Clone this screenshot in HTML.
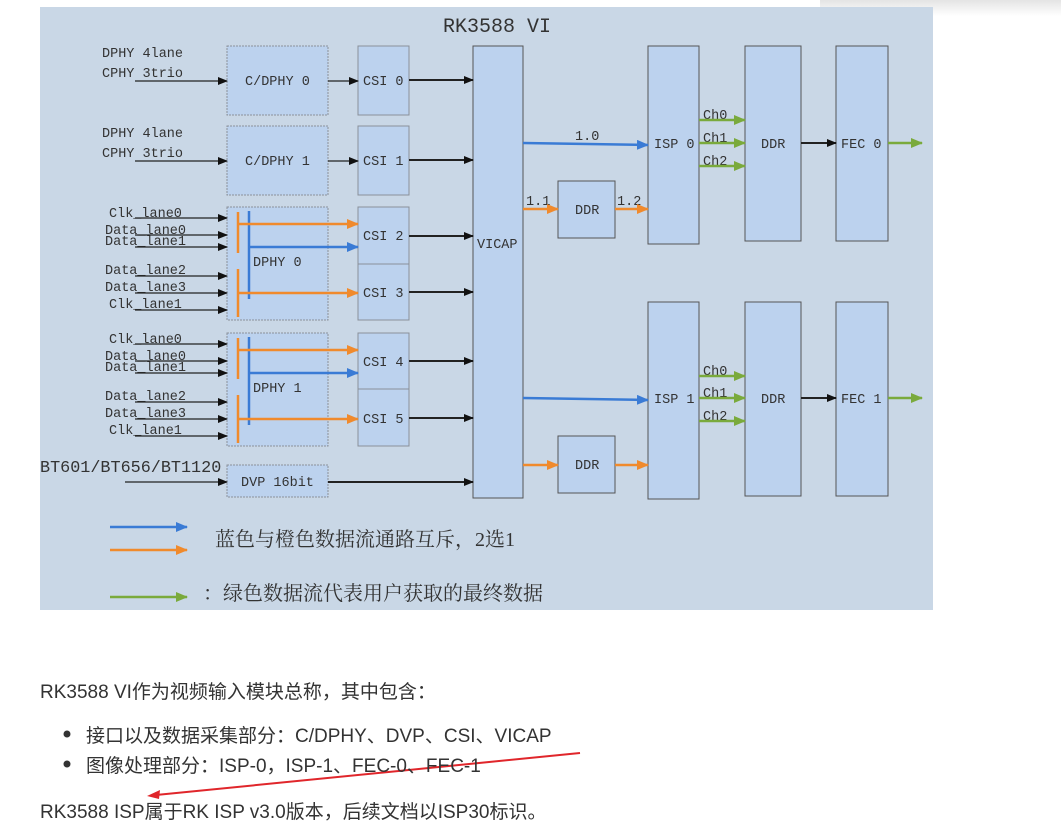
<!DOCTYPE html>
<html><head><meta charset="utf-8"><style>
html,body{margin:0;padding:0;background:#fff;width:1061px;height:837px;overflow:hidden}
svg{position:absolute;left:0;top:0}
.t{font-family:"Liberation Serif","Noto Serif CJK SC",serif;fill:#333}
.m{font-family:"Liberation Mono","Noto Serif CJK SC",monospace;fill:#333}
.p{position:absolute;font-family:"Liberation Sans","Noto Sans CJK SC",sans-serif;font-size:19px;color:#333;white-space:nowrap}
</style></head><body>
<svg width="1061" height="837" viewBox="0 0 1061 837">
<defs>
<linearGradient id="sh" x1="0" y1="0" x2="0" y2="1"><stop offset="0" stop-color="#e4e4e4"/><stop offset="1" stop-color="#fff"/></linearGradient>
<marker id="mk" markerWidth="10" markerHeight="8" refX="9" refY="4" orient="auto" markerUnits="userSpaceOnUse"><path d="M0,0L10,4L0,8z" fill="#111"/></marker>
<marker id="mb" markerWidth="12" markerHeight="10" refX="11" refY="5" orient="auto" markerUnits="userSpaceOnUse"><path d="M0,0L12,5L0,10z" fill="#3a7bd5"/></marker>
<marker id="mo" markerWidth="12" markerHeight="10" refX="11" refY="5" orient="auto" markerUnits="userSpaceOnUse"><path d="M0,0L12,5L0,10z" fill="#f08a2c"/></marker>
<marker id="mg" markerWidth="12" markerHeight="10" refX="11" refY="5" orient="auto" markerUnits="userSpaceOnUse"><path d="M0,0L12,5L0,10z" fill="#7aaa3c"/></marker>
</defs>
<rect x="820" y="0" width="241" height="16" fill="url(#sh)"/>
<rect x="40" y="7" width="893" height="603" fill="#c9d7e6"/>
<text class="m" x="443" y="32" font-size="20">RK3588 VI</text>
<g fill="#bcd2ee" stroke="#8a9099" stroke-width="1">
<rect x="227" y="46" width="101" height="69" stroke-dasharray="2,1"/>
<rect x="227" y="126" width="101" height="69" stroke-dasharray="2,1"/>
<rect x="227" y="207" width="101" height="113" stroke-dasharray="2,1"/>
<rect x="227" y="333" width="101" height="113" stroke-dasharray="2,1"/>
<rect x="227" y="465" width="101" height="32" stroke-dasharray="2,1"/>
<rect x="358" y="46" width="51" height="69"/>
<rect x="358" y="126" width="51" height="69"/>
<rect x="358" y="207" width="51" height="57"/>
<rect x="358" y="264" width="51" height="56"/>
<rect x="358" y="333" width="51" height="56"/>
<rect x="358" y="389" width="51" height="57"/>
</g>
<g fill="#bcd2ee" stroke="#555" stroke-width="1">
<rect x="473" y="46" width="50" height="452"/>
<rect x="558" y="181" width="57" height="57"/>
<rect x="558" y="436" width="57" height="57"/>
<rect x="648" y="46" width="51" height="198"/>
<rect x="648" y="302" width="51" height="197"/>
<rect x="745" y="46" width="56" height="195"/>
<rect x="745" y="302" width="56" height="194"/>
<rect x="836" y="46" width="52" height="195"/>
<rect x="836" y="302" width="52" height="194"/>
</g>
<g class="m" font-size="13.5">
<text x="245" y="85">C/DPHY 0</text><text x="245" y="165">C/DPHY 1</text>
<text x="363" y="85">CSI 0</text><text x="363" y="165">CSI 1</text>
<text x="363" y="240">CSI 2</text><text x="363" y="297">CSI 3</text>
<text x="363" y="366">CSI 4</text><text x="363" y="423">CSI 5</text>
<text x="253" y="266">DPHY 0</text><text x="253" y="392">DPHY 1</text>
<text x="241" y="486">DVP 16bit</text>
<text x="477" y="248">VICAP</text>
<text x="575" y="214">DDR</text><text x="575" y="469">DDR</text>
<text x="654" y="148">ISP 0</text><text x="654" y="403">ISP 1</text>
<text x="761" y="148">DDR</text><text x="761" y="403">DDR</text>
<text x="841" y="148">FEC 0</text><text x="841" y="403">FEC 1</text>
<text x="102" y="57">DPHY 4lane</text><text x="102" y="77">CPHY 3trio</text>
<text x="102" y="137">DPHY 4lane</text><text x="102" y="157">CPHY 3trio</text>
<text x="109" y="217">Clk_lane0</text><text x="105" y="234">Data_lane0</text><text x="105" y="245">Data_lane1</text>
<text x="105" y="274">Data_lane2</text><text x="105" y="291">Data_lane3</text><text x="109" y="308">Clk_lane1</text>
<text x="109" y="343">Clk_lane0</text><text x="105" y="360">Data_lane0</text><text x="105" y="371">Data_lane1</text>
<text x="105" y="400">Data_lane2</text><text x="105" y="417">Data_lane3</text><text x="109" y="434">Clk_lane1</text>
<text x="40" y="472" font-size="16.8">BT601/BT656/BT1120</text>
<text x="575" y="140">1.0</text><text x="526" y="205">1.1</text><text x="617" y="205">1.2</text>
<text x="703" y="119">Ch0</text><text x="703" y="142">Ch1</text><text x="703" y="165">Ch2</text>
<text x="703" y="375">Ch0</text><text x="703" y="397">Ch1</text><text x="703" y="420">Ch2</text>
</g>
<g stroke="#222" stroke-width="1.2" marker-end="url(#mk)">
<line x1="135" y1="81" x2="227" y2="81"/><line x1="135" y1="161" x2="227" y2="161"/>
<line x1="135" y1="218" x2="227" y2="218"/><line x1="135" y1="235" x2="227" y2="235"/><line x1="135" y1="247" x2="227" y2="247"/>
<line x1="135" y1="276" x2="227" y2="276"/><line x1="135" y1="293" x2="227" y2="293"/><line x1="135" y1="310" x2="227" y2="310"/>
<line x1="135" y1="344" x2="227" y2="344"/><line x1="135" y1="361" x2="227" y2="361"/><line x1="135" y1="373" x2="227" y2="373"/>
<line x1="135" y1="402" x2="227" y2="402"/><line x1="135" y1="419" x2="227" y2="419"/><line x1="135" y1="436" x2="227" y2="436"/>
<line x1="125" y1="482" x2="227" y2="482"/>
<line x1="328" y1="81" x2="358" y2="81"/><line x1="328" y1="161" x2="358" y2="161"/>
</g>
<g stroke="#222" stroke-width="2" marker-end="url(#mk)">
<line x1="409" y1="80" x2="473" y2="80"/><line x1="409" y1="160" x2="473" y2="160"/>
<line x1="409" y1="236" x2="473" y2="236"/><line x1="409" y1="292" x2="473" y2="292"/>
<line x1="409" y1="361" x2="473" y2="361"/><line x1="409" y1="418" x2="473" y2="418"/>
<line x1="328" y1="482" x2="473" y2="482"/>
<line x1="801" y1="143" x2="836" y2="143"/><line x1="801" y1="398" x2="836" y2="398"/>
</g>
<g stroke-width="2.5">
<line x1="238" y1="212" x2="238" y2="253" stroke="#f08a2c"/><line x1="238" y1="269" x2="238" y2="317" stroke="#f08a2c"/>
<line x1="249" y1="211" x2="249" y2="299" stroke="#3a7bd5"/>
<line x1="238" y1="338" x2="238" y2="379" stroke="#f08a2c"/><line x1="238" y1="395" x2="238" y2="443" stroke="#f08a2c"/>
<line x1="249" y1="337" x2="249" y2="425" stroke="#3a7bd5"/>
</g>
<g stroke-width="2.5" fill="none">
<g stroke="#f08a2c" marker-end="url(#mo)">
<line x1="238" y1="224" x2="358" y2="224"/><line x1="238" y1="293" x2="358" y2="293"/>
<line x1="238" y1="350" x2="358" y2="350"/><line x1="238" y1="419" x2="358" y2="419"/>
<line x1="523" y1="209" x2="558" y2="209"/><line x1="615" y1="209" x2="648" y2="209"/>
<line x1="523" y1="465" x2="558" y2="465"/><line x1="615" y1="465" x2="648" y2="465"/>
<line x1="110" y1="550" x2="187" y2="550"/>
</g>
<g stroke="#3a7bd5" marker-end="url(#mb)">
<line x1="249" y1="247" x2="358" y2="247"/><line x1="249" y1="373" x2="358" y2="373"/>
<line x1="523" y1="143" x2="648" y2="145"/><line x1="523" y1="398" x2="648" y2="400"/>
<line x1="110" y1="527" x2="187" y2="527"/>
</g>
<g stroke="#7aaa3c" marker-end="url(#mg)">
<line x1="699" y1="120" x2="745" y2="120"/><line x1="699" y1="143" x2="745" y2="143"/><line x1="699" y1="166" x2="745" y2="166"/>
<line x1="699" y1="376" x2="745" y2="376"/><line x1="699" y1="398" x2="745" y2="398"/><line x1="699" y1="421" x2="745" y2="421"/>
<line x1="888" y1="143" x2="922" y2="143"/><line x1="888" y1="398" x2="922" y2="398"/>
<line x1="110" y1="597" x2="187" y2="597"/>
</g>
</g>
<text class="t" x="215" y="546" font-size="20">蓝色与橙色数据流通路互斥，2选1</text>
<text class="t" x="203" y="600" font-size="20">：绿色数据流代表用户获取的最终数据</text>
<line x1="580" y1="753" x2="156" y2="795" stroke="#e0262b" stroke-width="2"/>
<path d="M147,796 L160,790 L159,799 z" fill="#e0262b"/>
<circle cx="67" cy="734" r="3.5" fill="#333"/><circle cx="67" cy="764" r="3.5" fill="#333"/>
</svg>
<div class="p" style="left:40px;top:677px">RK3588 VI作为视频输入模块总称，其中包含：</div>
<div class="p" style="left:86px;top:721px">接口以及数据采集部分：C/DPHY、DVP、CSI、VICAP</div>
<div class="p" style="left:86px;top:751px">图像处理部分：ISP-0，ISP-1、FEC-0、FEC-1</div>
<div class="p" style="left:40px;top:797px">RK3588 ISP属于RK ISP v3.0版本，后续文档以ISP30标识。</div>
</body></html>
